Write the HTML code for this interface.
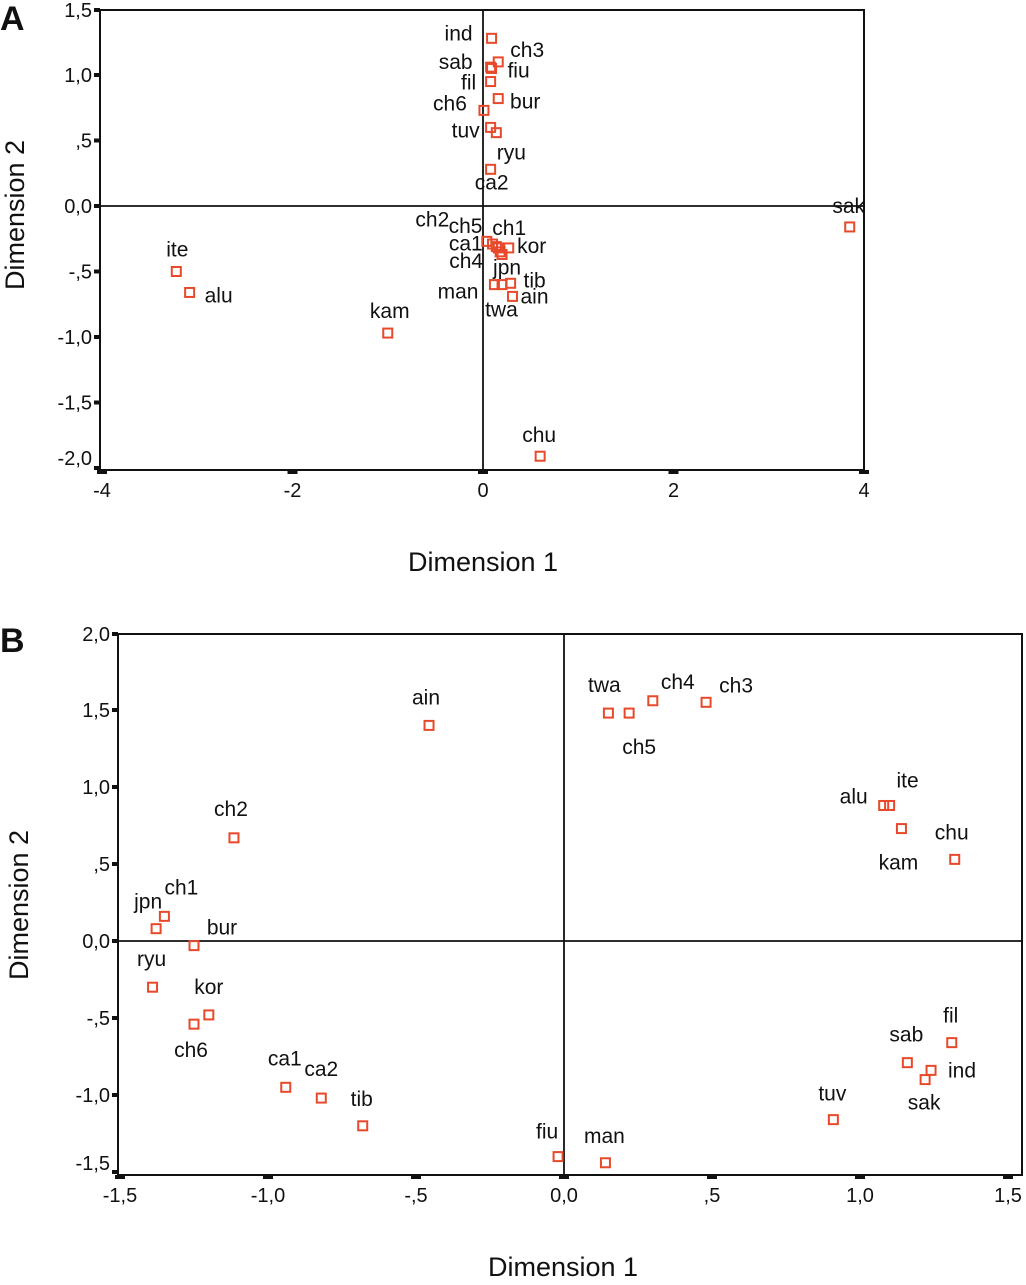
<!DOCTYPE html>
<html><head><meta charset="utf-8"><style>
body{margin:0;background:#fff}
svg text{font-family:"Liberation Sans",Arial,sans-serif;fill:#111}
</style></head><body>
<svg id="chart" width="1026" height="1280" viewBox="0 0 1026 1280" xmlns="http://www.w3.org/2000/svg"></svg>
<script>
// Panel A data
const aNames=["ind","ch3","sab","fiu","fil","bur","ch6","tuv","ryu","ca2","sak","ca1","ch5","ch2","ch1","ch4","kor","jpn","twa","man","tib","ain","ite","alu","kam","chu"];
const aX=[0.09,0.16,0.08,0.09,0.08,0.16,0.01,0.08,0.14,0.08,3.85,0.04,0.10,0.14,0.16,0.18,0.27,0.20,0.12,0.20,0.29,0.31,-3.22,-3.08,-1.00,0.60];
const aY=[1.28,1.10,1.06,1.05,0.95,0.82,0.73,0.60,0.56,0.28,-0.16,-0.27,-0.29,-0.31,-0.32,-0.35,-0.32,-0.37,-0.60,-0.60,-0.59,-0.69,-0.50,-0.66,-0.97,-1.91];
const aLabDx=[-33,29,-35,27,-22,27,-34,-25,15,1,-1,-21,-27,-64,11,-34,23,5,7,-44,24,22,1,29,2,-1];
const aLabDy=[-5,-12,-5,2,1,3,-7,3,20,13,-21,2,-18,-27,-20,9,-2,13,25,7,-3,0,-22,3,-22,-21];
const aXTicks=[-4,-2,0,2,4];
const aXTickLabels=["-4","-2","0","2","4"];
const aYTicks=[1.5,1.0,0.5,0.0,-0.5,-1.0,-1.5,-2.0];
const aYTickLabels=["1,5","1,0",",5","0,0","-,5","-1,0","-1,5","-2,0"];
// Panel B data
const bNames=["ain","ch2","jpn","ch1","bur","ryu","kor","ch6","ca1","ca2","tib","fiu","man","twa","ch5","ch4","ch3","alu","ite","kam","chu","fil","sab","ind","sak","tuv"];
const bX=[-0.456,-1.115,-1.378,-1.35,-1.25,-1.39,-1.20,-1.25,-0.94,-0.82,-0.68,-0.02,0.14,0.15,0.22,0.30,0.48,1.08,1.10,1.14,1.32,1.31,1.16,1.24,1.22,0.91];
const bY=[1.40,0.67,0.08,0.16,-0.03,-0.30,-0.48,-0.54,-0.95,-1.02,-1.20,-1.40,-1.44,1.48,1.48,1.56,1.55,0.88,0.88,0.73,0.53,-0.66,-0.79,-0.84,-0.90,-1.16];
const bLabDx=[-3,-3,-8,17,28,-1,0,-3,-1,0,-1,-11,-1,-4,10,25,30,-30,18,-3,-3,-1,-1,31,-1,-1];
const bLabDy=[-28,-29,-27,-29,-18,-28,-28,26,-29,-29,-27,-25,-27,-28,34,-19,-17,-9,-25,34,-27,-27,-28,0,23,-26];
const bXTicks=[-1.5,-1.0,-0.5,0,0.5,1.0,1.5];
const bXTickLabels=["-1,5","-1,0","-,5","0,0",",5","1,0","1,5"];
const bYTicks=[2.0,1.5,1.0,0.5,0.0,-0.5,-1.0,-1.5];
const bYTickLabels=["2,0","1,5","1,0",",5","0,0","-,5","-1,0","-1,5"];

const NS="http://www.w3.org/2000/svg";
const svg=document.getElementById('chart');
function mk(tag,attrs,parent){const e=document.createElementNS(NS,tag);for(const k in attrs)e.setAttribute(k,attrs[k]);(parent||svg).appendChild(e);return e;}

function panel(cfg){
  const g=mk('g',{});
  
  
  const sx=v=>cfg.x0+v*cfg.kx, sy=v=>cfg.y0-v*cfg.ky;
  const fr=mk('rect',{x:cfg.L,y:cfg.T,width:cfg.R-cfg.L,height:cfg.B-cfg.T,fill:'none',stroke:'#111','stroke-width':2},g);
  
  
  const zx=mk('line',{x1:cfg.L,x2:cfg.R,y1:sy(0),y2:sy(0),stroke:'#111','stroke-width':1.8},g);
  
  
  const zy=mk('line',{x1:sx(0),x2:sx(0),y1:cfg.T,y2:cfg.B,stroke:'#111','stroke-width':1.8},g);
  
  
  cfg.xt.forEach((v,i)=>{
    const x=sx(v);
    const tk=mk('rect',{x:x-5,y:cfg.B,width:10,height:4,fill:'#111'},g);
    
    
    const t=mk('text',{x:x,y:cfg.B+27,'text-anchor':'middle','font-size':20},g);
    t.textContent=cfg.xl[i];
    
    
  });
  cfg.yt.forEach((v,i)=>{
    let y=Math.max(sy(v),cfg.T);
    const tk=mk('rect',{x:cfg.L-6,y:y-2,width:6,height:4,fill:'#111'},g);
    
    
    let ly=Math.min(y,cfg.B-12);
    const t=mk('text',{x:cfg.L-8,y:ly+7,'text-anchor':'end','font-size':20},g);
    t.textContent=cfg.yl[i];
    
    
  });
  cfg.names.forEach((n,i)=>{
    const px=sx(cfg.xs[i]),py=sy(cfg.ys[i]);
    const r=mk('rect',{x:px-4.5,y:py-4.5,width:9,height:9,fill:'none',stroke:'#e8492a','stroke-width':2},g);
    
    
    const t=mk('text',{x:px+cfg.dx[i],y:py+cfg.dy[i]+7,'text-anchor':'middle','font-size':21},g);
    t.textContent=n;
    
    
  });
  const xt=mk('text',{x:cfg.xtX,y:cfg.xtY,'text-anchor':'middle','font-size':27},g);
  xt.textContent='Dimension 1';
  
  
  const yt=mk('text',{x:0,y:0,'text-anchor':'middle','font-size':27,transform:`translate(${cfg.ytX},${cfg.ytY}) rotate(-90)`},g);
  yt.textContent='Dimension 2';
  
  
  const pl=mk('text',{x:cfg.plX,y:cfg.plY,'font-size':34,'font-weight':'bold'},g);
  pl.textContent=cfg.letter;
  
  
}
panel({id:'panel-a',letter:'A',L:100,R:864,T:10,B:470,x0:483,kx:95.25,y0:206,ky:131,
  xt:aXTicks,xl:aXTickLabels,yt:aYTicks,yl:aYTickLabels,names:aNames,xs:aX,ys:aY,dx:aLabDx,dy:aLabDy,
  xtX:483,xtY:571,ytX:24,ytY:215,plX:0,plY:30});
panel({id:'panel-b',letter:'B',L:118,R:1022,T:634,B:1175,x0:564,kx:296,y0:941,ky:154,
  xt:bXTicks,xl:bXTickLabels,yt:bYTicks,yl:bYTickLabels,names:bNames,xs:bX,ys:bY,dx:bLabDx,dy:bLabDy,
  xtX:563,xtY:1276,ytX:28,ytY:905,plX:0,plY:652});
</script>
</body></html>
